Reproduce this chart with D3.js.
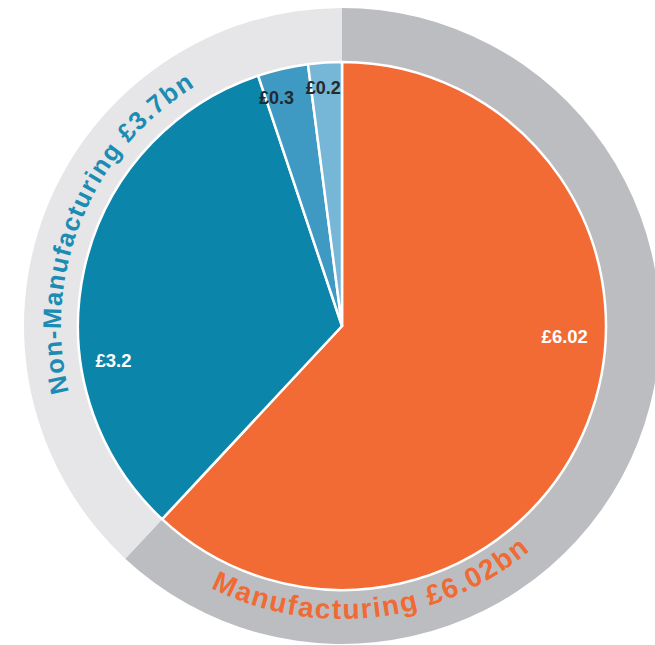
<!DOCTYPE html>
<html><head><meta charset="utf-8">
<script src="https://cdn.jsdelivr.net/npm/d3@7"></script>
<style>html,body{margin:0;padding:0;background:#fff;overflow:hidden}</style>
</head><body>
<svg id="chart" width="655" height="645"></svg>
<script>
// Data
const sliceLabels = ["£6.02", "£3.2", "£0.3", "£0.2"];
const sliceValues = [6.02, 3.2, 0.3, 0.2];
const sliceColors = ["#f26b35", "#0b85a9", "#3f9ac3", "#76b6d7"];
const groupNames = ["Manufacturing £6.02bn", "Non-Manufacturing £3.7bn"];
const groupValues = [6.02, 3.7];
const groupRingColors = ["#bcbdc1", "#e6e6e8"];
const groupTextColors = ["#f06a34", "#1b8cb3"];

const svg = d3.select("#chart");
const cx = 342, cy = 326;
const rPie = 264, rRingOuter = 318;
const g = svg.append("g").attr("transform", `translate(${cx},${cy})`);

const pie = d3.pie().sort(null).value(d => d);
const deg = Math.PI / 180;

// Outer ring
const ringArcs = pie(groupValues);
const ringArc = d3.arc().innerRadius(rPie).outerRadius(rRingOuter);
g.selectAll("path.ring").data(ringArcs).join("path")
  .attr("class", "ring")
  .attr("d", ringArc)
  .attr("fill", (d, i) => groupRingColors[i]);

// Pie slices
const arcs = pie(sliceValues);
const arc = d3.arc().innerRadius(0).outerRadius(rPie);
g.selectAll("path.slice").data(arcs).join("path")
  .attr("class", "slice")
  .attr("d", arc)
  .attr("fill", (d, i) => sliceColors[i])
  .attr("stroke", "#fff")
  .attr("stroke-width", 2.5)
  .attr("stroke-linejoin", "round");

// Slice labels (polar layout: degrees clockwise from top, radius)
const labelPolar = [[92.6, 223], [261.5, 231], [344, 238], [355.5, 239]];
const labelStyle = [
  {fill: "#fff", size: 18.5}, {fill: "#fff", size: 18.5},
  {fill: "#222a30", size: 18}, {fill: "#222a30", size: 18}
];
g.selectAll("text.lbl").data(arcs).join("text")
  .attr("class", "lbl")
  .attr("x", (d, i) => labelPolar[i][1] * Math.sin(labelPolar[i][0] * deg))
  .attr("y", (d, i) => -labelPolar[i][1] * Math.cos(labelPolar[i][0] * deg))
  .attr("dy", "0.35em")
  .attr("text-anchor", "middle")
  .attr("font-family", "Liberation Sans, Arial, sans-serif")
  .attr("font-weight", "bold")
  .attr("font-size", (d, i) => labelStyle[i].size)
  .attr("fill", (d, i) => labelStyle[i].fill)
  .text((d, i) => sliceLabels[i]);

// Curved ring labels
const defs = svg.append("defs");
// Manufacturing: along bottom, left to right (anticlockwise on screen)
const mMid = 173.4, mR = 293, mSpan = 66.5;
const pM = d3.path();
pM.arc(cx, cy, mR, (mMid + 90 - 90) * deg, (mMid - 90 - 90) * deg, true);
defs.append("path").attr("id", "tpM").attr("d", pM.toString());
// Non-Manufacturing: along left side, bottom to top (clockwise)
const nMid = 292.4, nR = 281, nSpan = 72;
const pN = d3.path();
pN.arc(cx, cy, nR, (nMid - 90 - 90) * deg, (nMid + 90 - 90) * deg, false);
defs.append("path").attr("id", "tpN").attr("d", pN.toString());

const curved = [
  {id: "tpM", size: 28, len: mR * mSpan * deg},
  {id: "tpN", size: 25.5, len: nR * nSpan * deg}
];
groupNames.forEach((name, i) => {
  svg.append("text")
    .attr("font-family", "Liberation Sans, Arial, sans-serif")
    .attr("font-weight", "bold")
    .attr("font-size", curved[i].size)
    .attr("fill", groupTextColors[i])
    .append("textPath")
    .attr("href", "#" + curved[i].id)
    .attr("startOffset", "50%")
    .attr("text-anchor", "middle")
    .attr("textLength", curved[i].len)
    .attr("lengthAdjust", "spacing")
    .text(name);
});
</script>
</body></html>
